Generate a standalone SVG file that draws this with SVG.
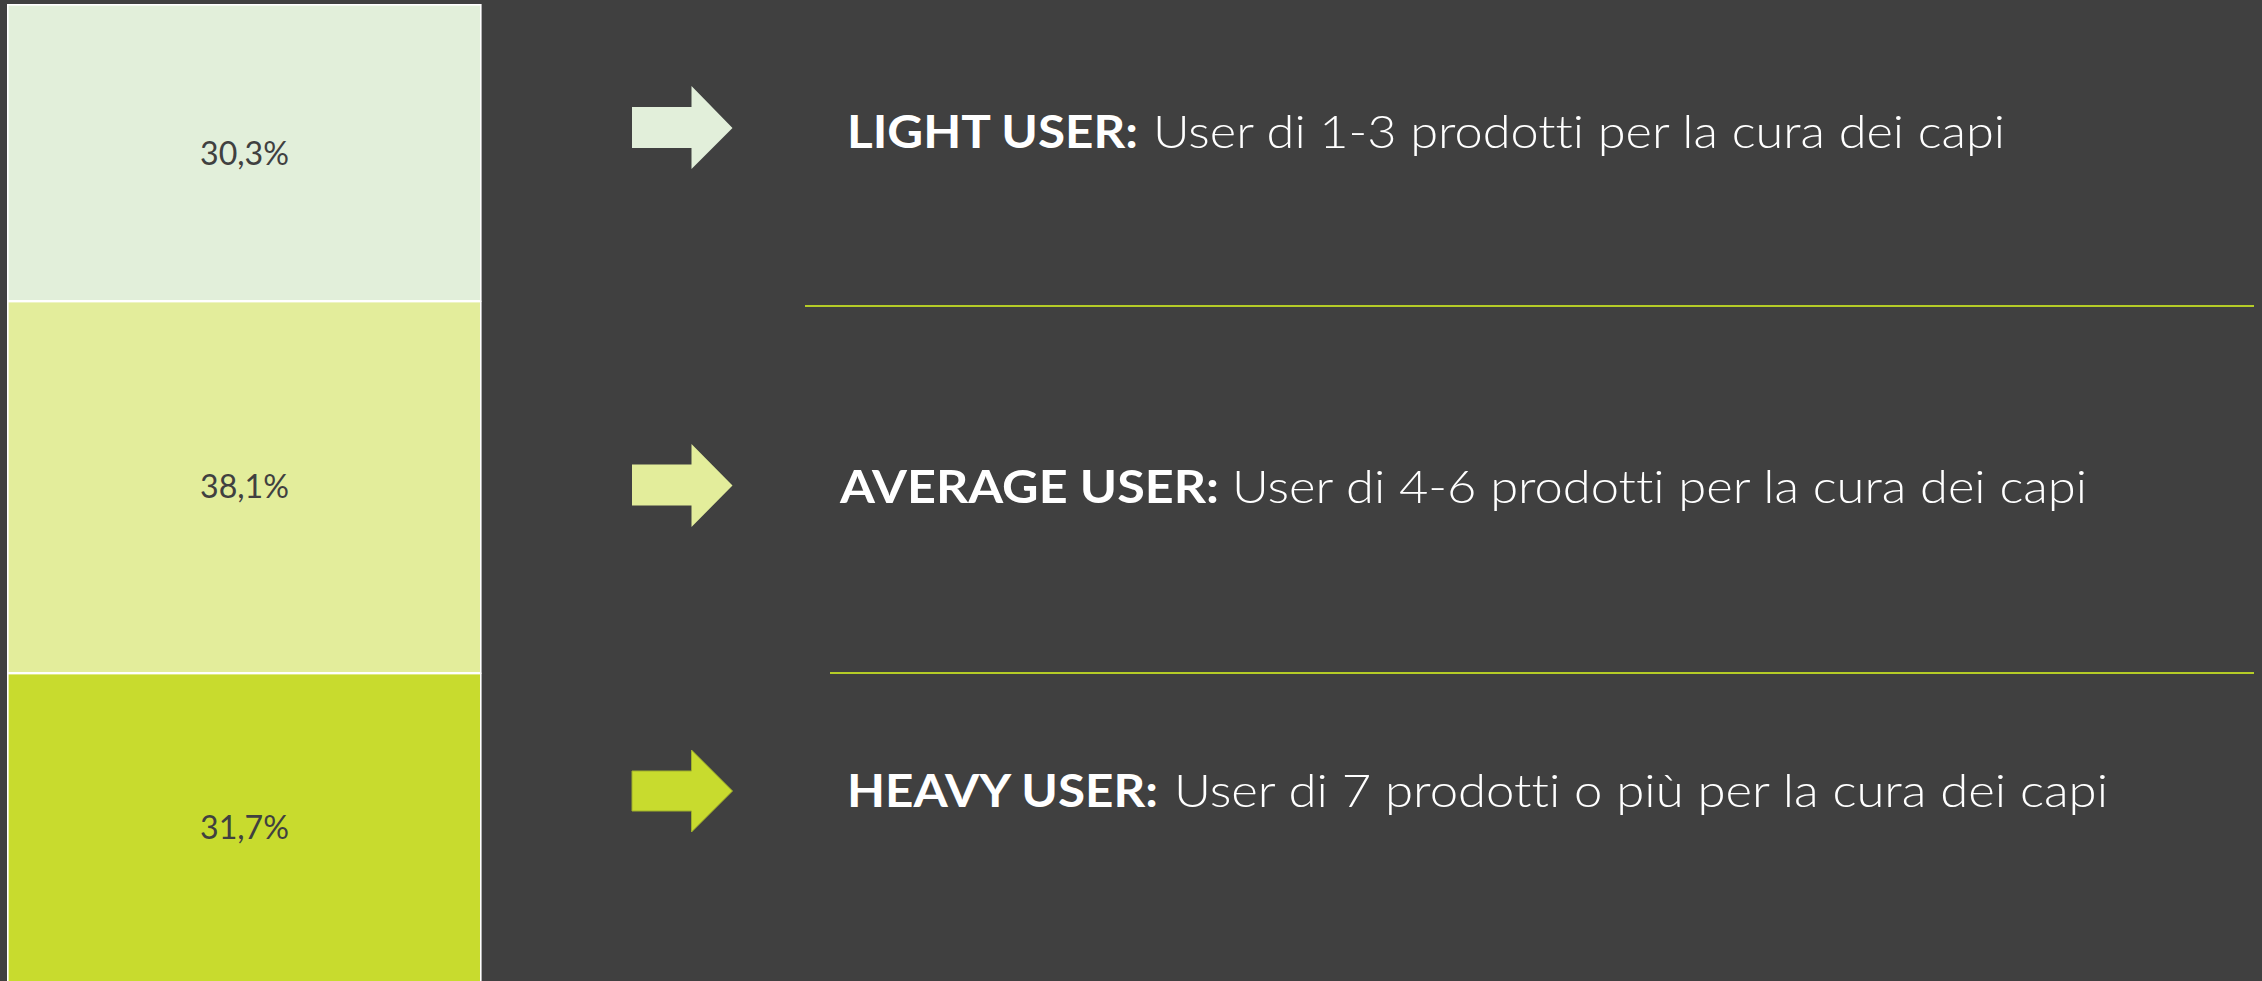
<svg xmlns="http://www.w3.org/2000/svg" width="2262" height="981" viewBox="0 0 2262 981">
  <style>
    .bg { fill: #404040; }
    .bar { stroke: #ffffff; stroke-width: 1.6; }
    text { font-variant-ligatures: none; font-feature-settings: "liga" 0; }
    .pct { font-family: Lato, "Open Sans", "Liberation Sans", sans-serif; font-size: 33px; fill: #404040; text-anchor: middle; }
    .lbl { font-family: Lato, "Open Sans", "Liberation Sans", sans-serif; font-size: 46px; fill: #ffffff; }
    .lbl-b { font-weight: 700; }
    .lbl-r { font-weight: 300; }
    .sep { stroke: #b5cc27; stroke-width: 2; }
    .c1 { fill: #e2efda; }
    .c2 { fill: #e3ed9b; }
    .c3 { fill: #c8db2e; }
  </style>

  <rect class="bg" x="0" y="0" width="2262" height="981"/>

  <!-- stacked column -->
  <g id="bar-light">
    <rect class="bar c1" x="7.8" y="4.8" width="473" height="296"/>
    <text class="pct" x="244.5" y="165" textLength="89" lengthAdjust="spacingAndGlyphs">30,3%</text>
  </g>
  <g id="bar-average">
    <rect class="bar c2" x="7.8" y="301.6" width="473" height="371.2"/>
    <text class="pct" x="244.5" y="498" textLength="89" lengthAdjust="spacingAndGlyphs">38,1%</text>
  </g>
  <g id="bar-heavy">
    <rect class="bar c3" x="7.8" y="673.6" width="473" height="320"/>
    <text class="pct" x="244.5" y="839" textLength="89" lengthAdjust="spacingAndGlyphs">31,7%</text>
  </g>

  <!-- arrows and separators -->
  <g id="connectors">
    <polygon class="c1" points="632,107 691.5,107 691.5,86 732.5,128 691.5,169 691.5,148 632,148"/>
    <polygon class="c2" points="632,464.5 691.5,464.5 691.5,444 732.5,485.5 691.5,527 691.5,505.5 632,505.5"/>
    <polygon class="c3" points="632,771 691.5,771 691.5,750 732.5,791 691.5,832 691.5,811 632,811" stroke="#9fb02a" stroke-width="1"/>
    <line class="sep" x1="805" y1="306" x2="2254" y2="306"/>
    <line class="sep" x1="830" y1="673" x2="2254" y2="673"/>
  </g>

  <!-- category descriptions -->
  <g id="label-light">
    <text class="lbl lbl-b" x="847" y="147.5" textLength="291" lengthAdjust="spacingAndGlyphs">LIGHT USER:</text>
    <text class="lbl lbl-r" x="1153" y="147.5" textLength="852" lengthAdjust="spacingAndGlyphs">User di 1-3 prodotti per la cura dei capi</text>
  </g>
  <g id="label-average">
    <text class="lbl lbl-b" x="840" y="502.5" textLength="379" lengthAdjust="spacingAndGlyphs">AVERAGE USER:</text>
    <text class="lbl lbl-r" x="1232" y="502.5" textLength="855" lengthAdjust="spacingAndGlyphs">User di 4-6 prodotti per la cura dei capi</text>
  </g>
  <g id="label-heavy">
    <text class="lbl lbl-b" x="847" y="807" textLength="311" lengthAdjust="spacingAndGlyphs">HEAVY USER:</text>
    <text class="lbl lbl-r" x="1174" y="807" textLength="934" lengthAdjust="spacingAndGlyphs">User di 7 prodotti o più per la cura dei capi</text>
  </g>
</svg>
